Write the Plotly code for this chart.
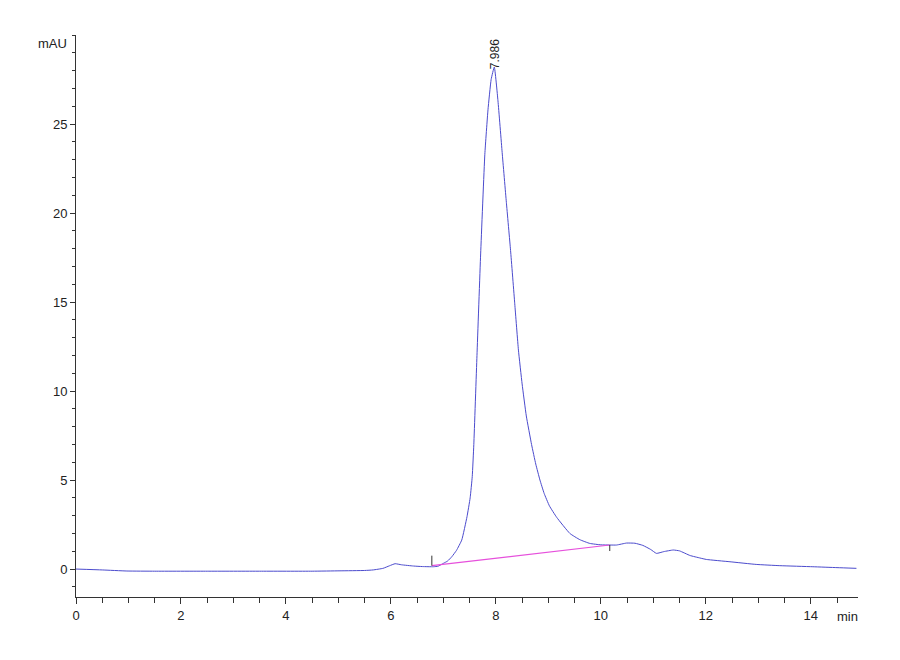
import plotly.graph_objects as go

time_min = [0, 0.5, 0.97, 1.5, 2.5, 3.5, 4.5, 5.03, 5.5, 5.66, 5.85, 5.97, 6.08, 6.2, 6.43, 6.6, 6.81,
            6.9, 7.0, 7.08, 7.16, 7.25, 7.35, 7.45, 7.51, 7.55, 7.58, 7.64, 7.71, 7.79, 7.85, 7.91,
            7.97, 8.04, 8.12, 8.20, 8.28, 8.36, 8.43, 8.50, 8.58, 8.68, 8.76, 8.84, 8.92, 9.02, 9.16,
            9.41, 9.6, 9.79, 10.0, 10.17, 10.3, 10.49, 10.65, 10.8, 10.95, 11.06, 11.2, 11.38, 11.5, 11.7,
            11.89, 12.01, 12.46, 12.96, 13.41, 14.04, 14.5, 14.87]
signal_mau = [0, -0.05, -0.11, -0.12, -0.12, -0.12, -0.12, -0.1, -0.08, -0.05, 0.04, 0.18, 0.3, 0.24, 0.17,
              0.14, 0.13, 0.16, 0.32, 0.45, 0.69, 1.05, 1.63, 2.94, 4.0, 5.2, 7.0, 12.0, 17.7, 23.3, 25.8, 27.5,
              28.2, 26.3, 23.4, 20.6, 17.9, 14.9, 12.3, 10.4, 8.6, 7.0, 5.9, 5.0, 4.25, 3.55, 2.9,
              2.0, 1.65, 1.44, 1.36, 1.35, 1.35, 1.46, 1.45, 1.33, 1.1, 0.88, 0.98, 1.07, 1.02,
              0.76, 0.62, 0.54, 0.41, 0.26, 0.19, 0.13, 0.08, 0.04]

baseline_x = [6.78, 10.17]
baseline_y = [0.19, 1.35]

peak_time = 7.986
peak_height = 28.2
peak_label = "7.986"

x_tick_vals = [0, 2, 4, 6, 8, 10, 12, 14]
y_tick_vals = [0, 5, 10, 15, 20, 25]

font_family = "Liberation Sans, Arial, sans-serif"
axis_color = "#333333"

fig = go.Figure()
fig.add_trace(go.Scatter(x=time_min, y=signal_mau, mode="lines",
                         line=dict(color="rgb(75,75,205)", width=1, shape="spline", smoothing=0.4),
                         hoverinfo="skip", showlegend=False))
fig.add_trace(go.Scatter(x=baseline_x, y=baseline_y, mode="lines",
                         line=dict(color="rgb(230,80,220)", width=1.2),
                         hoverinfo="skip", showlegend=False))

# small integration marks at baseline start (up) and end (down)
fig.add_shape(type="line", xref="x", yref="y", x0=baseline_x[0], x1=baseline_x[0],
              ysizemode="pixel", yanchor=baseline_y[0], y0=0, y1=10,
              line=dict(color="#333333", width=1))
fig.add_shape(type="line", xref="x", yref="y", x0=baseline_x[1], x1=baseline_x[1],
              ysizemode="pixel", yanchor=baseline_y[1], y0=0, y1=-6,
              line=dict(color="#333333", width=1))

fig.add_annotation(x=peak_time, y=peak_height, text=peak_label, textangle=-90, showarrow=False,
                   yanchor="bottom", xanchor="center", yshift=-4,
                   font=dict(family=font_family, size=12, color="#222222"))
fig.add_annotation(xref="paper", yref="paper", x=0, y=1, text="mAU", showarrow=False,
                   xanchor="right", yanchor="middle", xshift=-7, yshift=-8,
                   font=dict(family=font_family, size=13, color="#222222"))
fig.add_annotation(xref="paper", yref="paper", x=1, y=0, text="min", showarrow=False,
                   xanchor="right", yanchor="top", xshift=2, yshift=-10,
                   font=dict(family=font_family, size=13, color="#222222"))

fig.update_layout(
    width=900, height=660,
    margin=dict(l=68, r=50, t=27, b=71),
    paper_bgcolor="white", plot_bgcolor="white",
    font=dict(family=font_family, size=13, color="#222222"),
    xaxis=dict(range=[0, 14.9], tickvals=x_tick_vals, ticks="outside", ticklen=6, tickcolor=axis_color,
               showline=True, linecolor=axis_color, linewidth=1, showgrid=False, zeroline=False,
               minor=dict(dtick=0.5, ticks="outside", ticklen=5, tickcolor=axis_color, showgrid=False),
               tickfont=dict(size=13)),
    yaxis=dict(range=[-1.57, 30], tickvals=y_tick_vals, ticks="outside", ticklen=5, tickcolor=axis_color,
               showline=True, linecolor=axis_color, linewidth=1, showgrid=False, zeroline=False,
               minor=dict(dtick=1, ticks="outside", ticklen=3, tickcolor=axis_color, showgrid=False),
               tickfont=dict(size=13)),
)

fig.write_html("out.html")
